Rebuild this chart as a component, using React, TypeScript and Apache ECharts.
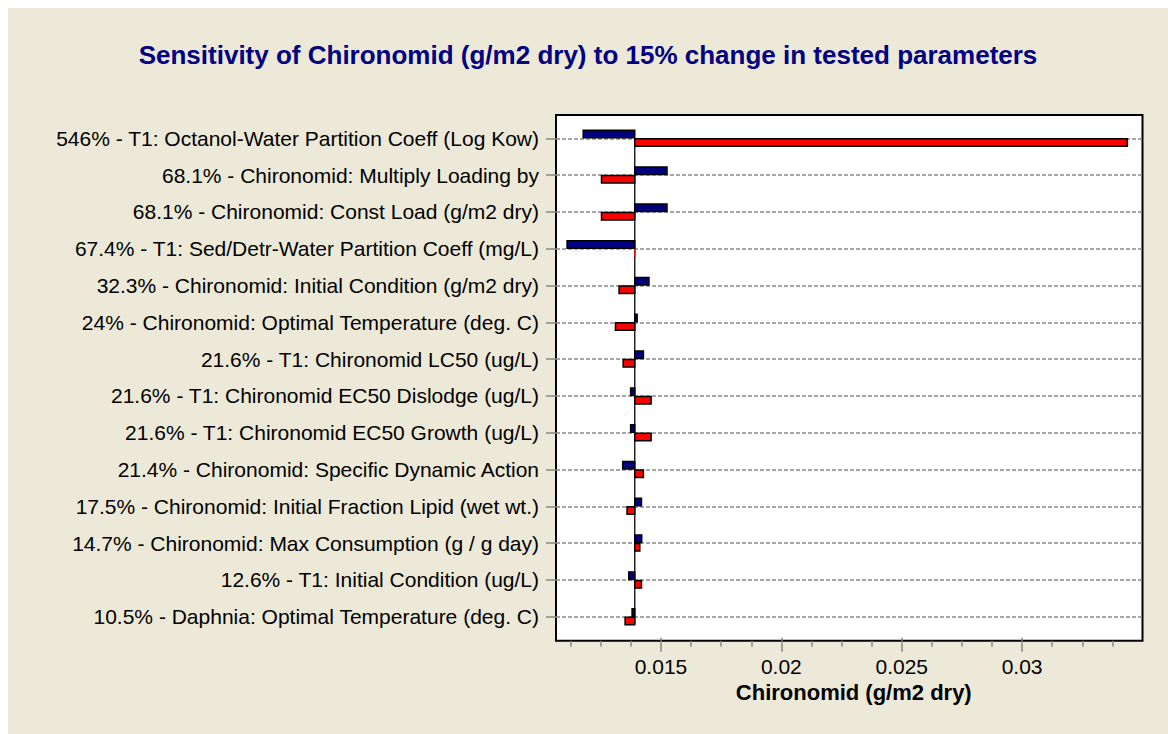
import React, { useEffect, useRef } from "react";
import * as echarts from "echarts";

const categories = [
  "546% - T1: Octanol-Water Partition Coeff (Log Kow)",
  "68.1% - Chironomid: Multiply Loading by",
  "68.1% - Chironomid: Const Load (g/m2 dry)",
  "67.4% - T1: Sed/Detr-Water Partition Coeff (mg/L)",
  "32.3% - Chironomid: Initial Condition (g/m2 dry)",
  "24% - Chironomid: Optimal Temperature (deg. C)",
  "21.6% - T1: Chironomid LC50 (ug/L)",
  "21.6% - T1: Chironomid EC50 Dislodge (ug/L)",
  "21.6% - T1: Chironomid EC50 Growth (ug/L)",
  "21.4% - Chironomid: Specific Dynamic Action",
  "17.5% - Chironomid: Initial Fraction Lipid (wet wt.)",
  "14.7% - Chironomid: Max Consumption (g / g day)",
  "12.6% - T1: Initial Condition (ug/L)",
  "10.5% - Daphnia: Optimal Temperature (deg. C)",
];

// Result with parameter decreased 15% (blue) and increased 15% (red)
const lowValues = [
  0.01177, 0.01525, 0.01525, 0.0111, 0.0145, 0.01401, 0.01427, 0.01374,
  0.01374, 0.01341, 0.01419, 0.0142, 0.01366, 0.0138,
];
const highValues = [
  0.03437, 0.01253, 0.01253, 0.01392, 0.01326, 0.01311, 0.01343, 0.01459,
  0.01459, 0.01427, 0.01359, 0.01412, 0.01419, 0.01351,
];
const baseValue = 0.01391;

const majorTicks = [0.015, 0.02, 0.025, 0.03];
const minorTicks = [
  0.01125, 0.0125, 0.01375, 0.01625, 0.0175, 0.01875, 0.02125, 0.0225,
  0.02375, 0.02625, 0.0275, 0.02875, 0.03125, 0.0325, 0.03375,
];
const xMin = 0.01064;
const xMax = 0.035;

const titleText =
  "Sensitivity of Chironomid (g/m2 dry) to 15% change in tested parameters";
const xAxisName = "Chironomid (g/m2 dry)";

const FONT = "'Liberation Sans', Arial, sans-serif";

export default function App() {
  const ref = useRef<HTMLDivElement>(null);

  useEffect(() => {
    if (!ref.current) return;
    const chart = echarts.init(ref.current, null, { renderer: "svg" });
    const n = categories.length;
    const data = categories.map((_, i) => [i, lowValues[i], highValues[i]]);

    const option: any = {
      animation: false,
      backgroundColor: "#ECE9D8",
      textStyle: { fontFamily: FONT },
      title: {
        text: titleText,
        left: "center",
        top: 29,
        padding: [5, 5, 5, 15],
        textStyle: {
          color: "#000080",
          fontSize: 26,
          fontWeight: "bold",
          fontFamily: FONT,
        },
      },
      graphic: [
        {
          type: "rect",
          z: -1,
          silent: true,
          shape: { x: 548, y: 107, width: 586.5, height: 525.7 },
          style: { fill: "#ffffff", stroke: "#000000", lineWidth: 2 },
        },
      ],
      grid: {
        left: 548,
        right: 25.5,
        top: 130.3,
        bottom: 117.3,
        containLabel: false,
      },
      xAxis: [
        {
          type: "value",
          min: xMin,
          max: xMax,
          position: "bottom",
          offset: 24,
          axisLine: { show: false },
          splitLine: { show: false },
          axisTick: {
            show: true,
            customValues: majorTicks,
            length: 11,
            lineStyle: { color: "#888888", width: 1.5 },
          },
          axisLabel: {
            show: true,
            customValues: majorTicks,
            margin: 15,
            fontSize: 21,
            color: "#000000",
            fontFamily: FONT,
            formatter: (v: number) => String(v),
          },
          name: xAxisName,
          nameLocation: "middle",
          nameGap: 41,
          nameTextStyle: {
            fontSize: 22,
            fontWeight: "bold",
            color: "#000000",
            fontFamily: FONT,
            padding: [0, 0, 0, 9],
          },
        },
        {
          type: "value",
          min: xMin,
          max: xMax,
          position: "bottom",
          offset: 24,
          axisLine: { show: false },
          splitLine: { show: false },
          axisLabel: { show: false },
          axisTick: {
            show: true,
            customValues: minorTicks,
            length: 6,
            lineStyle: { color: "#888888", width: 1.5 },
          },
        },
        {
          type: "value",
          min: xMin,
          max: xMax,
          position: "bottom",
          offset: 24,
          axisLine: { show: false },
          splitLine: { show: false },
          axisLabel: { show: false },
          axisTick: {
            show: true,
            inside: true,
            customValues: majorTicks,
            length: 3,
            lineStyle: { color: "#888888", width: 1.5 },
          },
        },
      ],
      yAxis: {
        type: "category",
        data: categories,
        inverse: true,
        boundaryGap: false,
        axisLine: { show: false },
        axisTick: {
          show: true,
          length: 10,
          lineStyle: { color: "#888888", width: 1.5 },
        },
        axisLabel: {
          margin: 17,
          fontSize: 21,
          color: "#000000",
          fontFamily: FONT,
        },
        splitLine: {
          show: true,
          lineStyle: { color: "#8a8a8a", width: 1.5, type: [4, 2] },
        },
      },
      series: [
        {
          type: "custom",
          xAxisIndex: 0,
          yAxisIndex: 0,
          encode: { x: [1, 2], y: 0 },
          data,
          renderItem: (params: any, api: any) => {
            const idx = api.value(0);
            const lo = api.value(1);
            const hi = api.value(2);
            const c = api.coord([baseValue, idx]);
            const pl = api.coord([lo, idx]);
            const ph = api.coord([hi, idx]);
            const band = api.size([0, 1])[1];
            const segEnd = idx < n - 1 ? c[1] + band : c[1] + 7;
            const wl = Math.abs(pl[0] - c[0]);
            const wh = Math.abs(ph[0] - c[0]);
            return {
              type: "group",
              children: [
                {
                  type: "line",
                  shape: { x1: c[0], y1: c[1], x2: c[0], y2: segEnd },
                  style: { stroke: "#222222", lineWidth: 1.5 },
                },
                {
                  type: "rect",
                  shape: {
                    x: Math.min(pl[0], c[0]),
                    y: c[1] - 8,
                    width: wl,
                    height: 7.5,
                  },
                  style: {
                    fill: "#000080",
                    stroke: wl < 1 ? "#000080" : "#000000",
                    lineWidth: 1.5,
                  },
                },
                {
                  type: "rect",
                  shape: {
                    x: Math.min(ph[0], c[0]),
                    y: c[1] + 0.5,
                    width: wh,
                    height: 7.5,
                  },
                  style: {
                    fill: "#ff0000",
                    stroke: wh < 1 ? "#ff0000" : "#000000",
                    lineWidth: wh < 1 ? 0.8 : 1.5,
                  },
                },
              ],
            };
          },
        },
      ],
    };

    chart.setOption(option);
    return () => {
      chart.dispose();
    };
  }, []);

  return (
    <div
      ref={ref}
      style={{
        position: "fixed",
        left: 8,
        top: 8,
        width: 1160,
        height: 726,
      }}
    />
  );
}
